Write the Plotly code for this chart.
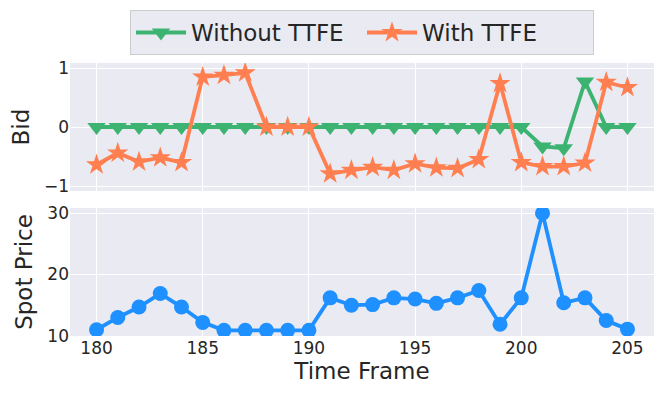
import plotly.graph_objects as go
from plotly.subplots import make_subplots

frames = list(range(180, 206))

bid_without = [0, 0, 0, 0, 0, 0, 0, 0, 0, 0, 0, 0, 0, 0, 0, 0, 0, 0, 0, 0,
               0, -0.33, -0.36, 0.77, 0, 0]
bid_with = [-0.64, -0.44, -0.59, -0.52, -0.6, 0.85, 0.88, 0.92, 0, 0, 0,
            -0.79, -0.73, -0.68, -0.73, -0.62, -0.69, -0.7, -0.55, 0.74,
            -0.6, -0.67, -0.67, -0.61, 0.76, 0.67]
spot_price = [11.0, 13.0, 14.7, 16.9, 14.7, 12.2, 10.9, 10.9, 10.9, 10.9, 10.9,
              16.2, 15.0, 15.1, 16.2, 16.0, 15.3, 16.2, 17.4, 11.9,
              16.2, 30.0, 15.4, 16.2, 12.5, 11.1]

BG = '#EAEAF2'
FONT = 'DejaVu Sans'
TXT = '#262626'

fig = make_subplots(rows=2, cols=1, shared_xaxes=True, vertical_spacing=0.062)

# Bid panel
fig.add_trace(go.Scatter(
    x=frames, y=bid_without, name='Without TTFE', mode='lines+markers',
    line=dict(color='#3CB371', width=3.8),
    marker=dict(symbol='triangle-down', size=16, color='#3CB371')
), row=1, col=1)

fig.add_trace(go.Scatter(
    x=frames, y=bid_with, name='With TTFE', mode='lines+markers',
    line=dict(color='#FF7F50', width=3.8),
    marker=dict(symbol='star', size=16, color='#FF7F50')
), row=1, col=1)

# Spot price panel
fig.add_trace(go.Scatter(
    x=frames, y=spot_price, mode='lines+markers', showlegend=False,
    line=dict(color='#1E90FF', width=3.8),
    marker=dict(symbol='circle', size=15, color='#1E90FF')
), row=2, col=1)

axis_style = dict(showgrid=True, gridcolor='white', gridwidth=1.2,
                  zeroline=False, showline=False, ticks='',
                  tickfont=dict(family=FONT, size=17, color=TXT))

fig.update_xaxes(range=[178.75, 206.25], tickvals=[180, 185, 190, 195, 200, 205],
                 **axis_style)
fig.update_xaxes(title=dict(text='Time Frame', font=dict(family=FONT, size=23, color=TXT),
                            standoff=2), row=2, col=1)
fig.update_yaxes(**axis_style)
fig.update_yaxes(range=[-1.085, 1.085], tickvals=[-1, 0, 1],
                 title=dict(text='Bid', font=dict(family=FONT, size=23, color=TXT), standoff=8),
                 row=1, col=1)
fig.update_yaxes(range=[9.98, 30.85], tickvals=[10, 20, 30],
                 title=dict(text='Spot Price', font=dict(family=FONT, size=23, color=TXT), standoff=8),
                 row=2, col=1)

# page body adds an 8px offset, so margins are shifted to compensate
fig.update_layout(
    width=664, height=399,
    margin=dict(l=62, r=18, t=55, b=71, autoexpand=False),
    paper_bgcolor='white', plot_bgcolor=BG,
    font=dict(family=FONT, color=TXT),
    legend=dict(orientation='h', x=0.5, xanchor='center', y=1.194, yanchor='top',
                bgcolor=BG, bordercolor='#CCCCCC', borderwidth=1,
                font=dict(family=FONT, size=23, color=TXT),
                itemwidth=50, entrywidth=166, tracegroupgap=0),
)

fig.write_html("out.html")
